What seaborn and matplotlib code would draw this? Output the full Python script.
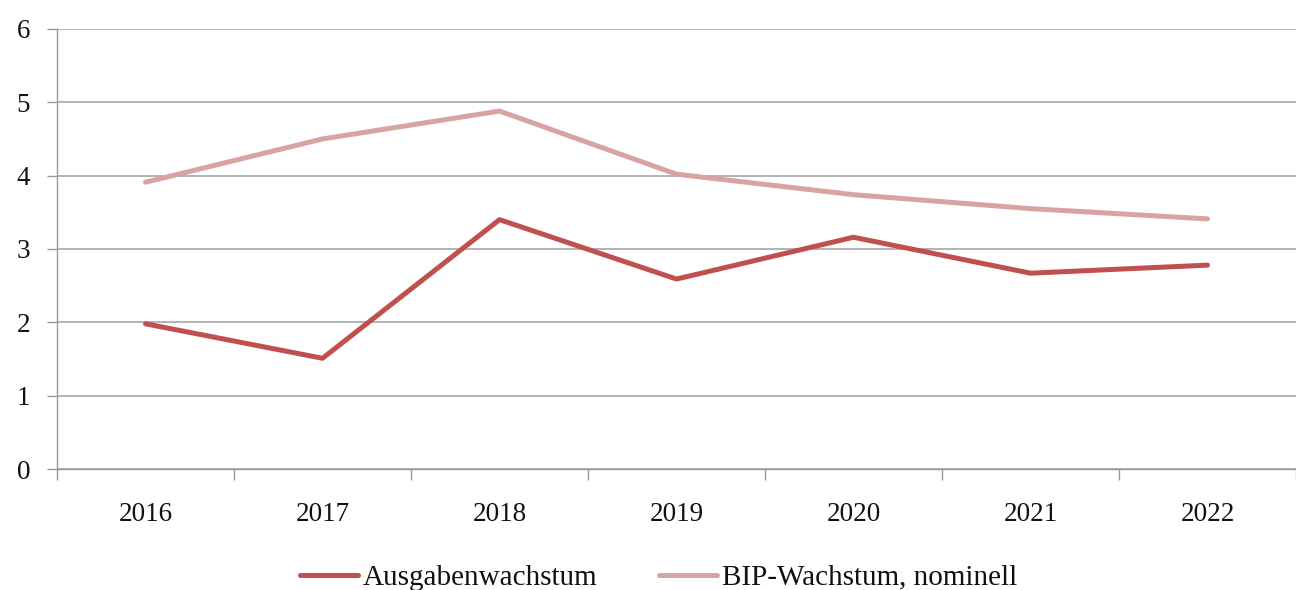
import matplotlib
import matplotlib.pyplot as plt
import pandas as pd
import seaborn as sns

matplotlib.use("Agg")

years = ["2016", "2017", "2018", "2019", "2020", "2021", "2022"]
ausgaben = [1.98, 1.51, 3.40, 2.59, 3.16, 2.67, 2.78]
bip = [3.91, 4.50, 4.88, 4.02, 3.74, 3.55, 3.41]
series_names = ["Ausgabenwachstum", "BIP-Wachstum, nominell"]
colors = ["#C0504D", "#D9A3A2"]
yticks = [0, 1, 2, 3, 4, 5, 6]

df = pd.DataFrame(
    {
        "Jahr": years * 2,
        "Wert": ausgaben + bip,
        "Reihe": [series_names[0]] * len(years) + [series_names[1]] * len(years),
    }
)
df["pos"] = df["Jahr"].map({y: i for i, y in enumerate(years)})

sns.set_style("white")
plt.rcParams["font.family"] = ["Liberation Serif", "DejaVu Serif"]
plt.rcParams["text.color"] = "#111111"
plt.rcParams["xtick.color"] = "#999999"
plt.rcParams["ytick.color"] = "#999999"
plt.rcParams["xtick.labelcolor"] = "#111111"
plt.rcParams["ytick.labelcolor"] = "#111111"

fig = plt.figure(figsize=(12.96, 5.9), dpi=100)
ax = fig.add_axes([0.044, 0.205, 0.956, 0.746])

sns.lineplot(
    data=df,
    x="pos",
    y="Wert",
    hue="Reihe",
    hue_order=series_names,
    palette=colors,
    linewidth=3.6,
    ax=ax,
    legend=False,
)

ax.set_ylim(0, 6)
ax.set_yticks(yticks)
ax.set_xlim(-0.5, 6.42)
ax.set_xticks(range(len(years)))
ax.set_xticklabels(years)
ax.set_xticks([i - 0.5 for i in range(len(years) + 1)], minor=True)
ax.tick_params(axis="x", which="major", bottom=False, length=0, pad=24, labelsize=19.5)
ax.tick_params(axis="x", which="minor", bottom=True, length=8, width=1)
ax.tick_params(axis="y", left=True, length=7.2, width=1, pad=12, labelsize=19.5)
ax.grid(axis="y", color="#a6a6a6", linewidth=1.2)
ax.set_axisbelow(True)
ax.set_xlabel("")
ax.set_ylabel("")

for side in ["top", "right"]:
    ax.spines[side].set_visible(False)
for side in ["left", "bottom"]:
    ax.spines[side].set_color("#999999")
    ax.spines[side].set_linewidth(1)

handles = [
    plt.Line2D([], [], color=c, linewidth=3.6, solid_capstyle="round") for c in colors
]
fig.legend(
    handles,
    series_names,
    loc="center",
    bbox_to_anchor=(0.508, 0.021),
    ncol=2,
    frameon=False,
    fontsize=21,
    handlelength=2.0,
    handletextpad=0.17,
    columnspacing=2.1,
)

fig.savefig("out.png", dpi=100)
